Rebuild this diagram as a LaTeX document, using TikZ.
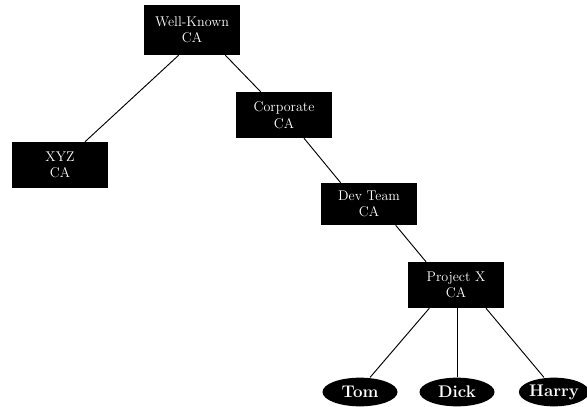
\documentclass[tikz,border=0pt]{standalone}
\usepackage{tikz}
\usetikzlibrary{shapes.geometric}
\begin{document}
\begin{tikzpicture}[x=0.03cm, y=-0.03cm, font=\large,
  ca/.style={fill=black, text=white, align=center, inner sep=0pt,
    minimum width=2.9cm, minimum height=1.38cm},
  user/.style={ellipse, fill=black, text=white, inner sep=0pt,
    minimum width=2.25cm, minimum height=0.86cm, font=\Large\bfseries},
  link/.style={draw=black, thick}]
  \useasboundingbox (0,0) rectangle (587,406);
  % certificate authorities
  \node[ca, minimum height=1.5cm] (wk) at (192,30) {Well-Known\\CA};
  \node[ca] (xyz) at (60,165) {XYZ\\CA};
  \node[ca] (corp) at (284,115) {Corporate\\CA};
  \node[ca, minimum height=1.26cm] (dev) at (369,204) {Dev Team\\CA};
  \node[ca] (px) at (456,285) {Project X\\CA};
  % end users
  \node[user] (tom) at (360,392) {Tom};
  \node[user] (dick) at (457,392) {Dick};
  \node[user, minimum width=2.1cm] (harry) at (554,392) {Harry};
  % links
  \draw[link] ([xshift=-0.4cm]wk.south) -- ([xshift=0.75cm]xyz.north);
  \draw[link] ([xshift=1cm]wk.south) -- ([xshift=-0.7cm]corp.north);
  \draw[link] ([xshift=0.6cm]corp.south) -- ([xshift=-0.85cm]dev.north);
  \draw[link] ([xshift=0.8cm]dev.south) -- ([xshift=-0.9cm]px.north);
  \draw[link] ([xshift=-0.8cm]px.south) -- ([xshift=0.3cm]tom.north);
  \draw[link] ([xshift=0.03cm]px.south) -- (dick.north);
  \draw[link] ([xshift=0.9cm]px.south) -- ([xshift=-0.3cm]harry.north);
\end{tikzpicture}
\end{document}
